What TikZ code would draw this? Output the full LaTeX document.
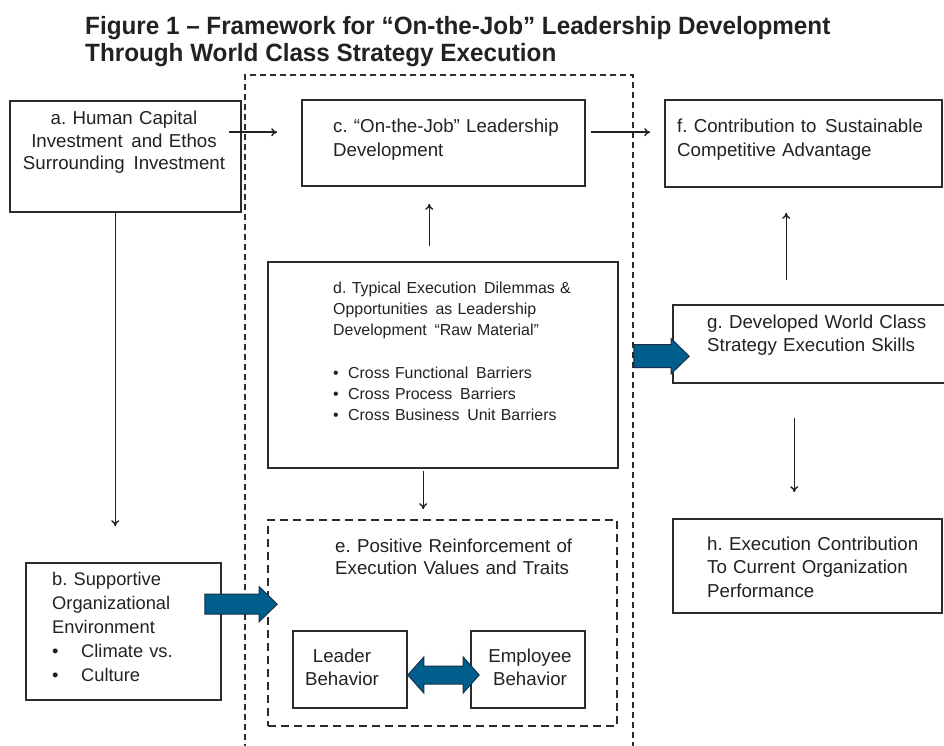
\documentclass[tikz,border=0pt]{standalone}
\usepackage{fontspec}
\setmainfont{Liberation Sans}
\newfontfamily\titlefont[FakeStretch=0.97,Ligatures=TeX]{Liberation Sans}
\usetikzlibrary{fit,calc,arrows.meta}

\definecolor{ink}{HTML}{222222}
\definecolor{rule}{HTML}{2B2B2B}
\definecolor{flowblue}{RGB}{0,94,140}
\definecolor{flowedge}{RGB}{20,50,75}

\tikzset{
  box/.style={draw=rule, line width=1.6pt, inner sep=0pt},
  dashbox/.style={draw=rule, line width=1.6pt, dash pattern=on 8pt off 5pt, inner sep=0pt},
  txt/.style={inner sep=0pt, text=ink, anchor=base west, text width=#1, align=left,
    font=\fontsize{18.7}{23.5}\selectfont},
  ctxt/.style={inner sep=0pt, text=ink, anchor=base, text width=#1, align=center,
    font=\fontsize{18.7}{23}\selectfont},
  arr/.style={draw=ink, line width=1.4pt, -{To[length=6pt,width=8pt]}},
  blockarr/.style={fill=flowblue, draw=flowedge, line width=1pt, line join=miter},
}

% horizontal block arrow: from, to, shaft half height, head half height, head length
\newcommand\flowarrow[5]{%
  \path[blockarr] let \p1=(#1), \p2=(#2) in
    (\x1,\y1+#3pt) -- (\x2-#5pt,\y1+#3pt) -- (\x2-#5pt,\y1+#4pt) -- (\x2,\y1)
    -- (\x2-#5pt,\y1-#4pt) -- (\x2-#5pt,\y1-#3pt) -- (\x1,\y1-#3pt) -- cycle;}
% horizontal double-headed block arrow
\newcommand\flowarrowboth[5]{%
  \path[blockarr] let \p1=(#1), \p2=(#2) in
    (\x1,\y1) -- (\x1+#5pt,\y1+#4pt) -- (\x1+#5pt,\y1+#3pt) -- (\x2-#5pt,\y1+#3pt)
    -- (\x2-#5pt,\y1+#4pt) -- (\x2,\y1) -- (\x2-#5pt,\y1-#4pt) -- (\x2-#5pt,\y1-#3pt)
    -- (\x1+#5pt,\y1-#3pt) -- (\x1+#5pt,\y1-#4pt) -- cycle;}

\newcommand\bul[1]{\makebox[#1][l]{\textbullet}}
\newcommand\xsp{\hspace{2.5pt}}

\begin{document}
\frenchspacing
\begin{tikzpicture}[x=1pt,y=-1pt]
\useasboundingbox (0,0) rectangle (944,746);
\fill[white] (0,0) rectangle (944,746);

% title
\node[inner sep=0pt, anchor=base west, text=ink,
      font=\titlefont\bfseries\fontsize{25}{27}\selectfont] (title) at (85,35)
  {Figure 1 – Framework for “On-the-Job” Leadership Development};
\node[inner sep=0pt, anchor=base west, text=ink,
      font=\titlefont\bfseries\fontsize{25}{27}\selectfont] (title2) at (85,62)
  {Through World Class Strategy Execution};

% the execution zone (open at the bottom)
\draw[rule, line width=1.3pt, dash pattern=on 6pt off 4pt]
  (245,750) -- (245,75) -- (633,75) -- (633,750);

% boxes
\node[box, fit={(10,101)(241,212)}] (a) {};
\node[box, fit={(26,563)(221,700)}] (b) {};
\node[box, fit={(302,100)(585,186)}] (c) {};
\node[box, fit={(268,262)(618,468)}] (d) {};
\node[dashbox, fit={(268,520)(617,726)}] (e) {};
\node[box, fit={(665,100)(942,187)}] (f) {};
\node[box, fit={(673,305)(950,383)}] (g) {};
\node[box, fit={(673,519)(942,613)}] (h) {};
\node[box, fit={(293,631)(407,708)}] (leader) {};
\node[box, fit={(471,631)(585,708)}] (employee) {};

% texts
\node[ctxt=228pt, font=\fontsize{18.7}{22.5}\selectfont] (ta) at (124,125)
  {a. Human Capital\\Investment \xsp and Ethos\\Surrounding \xsp Investment};
\node[txt=165pt, font=\fontsize{18.3}{24.2}\selectfont] (tb) at (52,585)
  {b. Supportive\\Organizational\\Environment\\\bul{29pt}Climate vs.\\\bul{29pt}Culture};
\node[txt=260pt] (tc) at (333,133) {c. “On-the-Job” Leadership\\Development};
\node[txt=270pt, font=\fontsize{15.9}{21.3}\selectfont] (td) at (333,293)
  {d. Typical Execution \xsp Dilemmas \&\\Opportunities \xsp as Leadership\\Development \xsp “Raw Material”\\[21.3pt]
   \bul{15pt}Cross Functional \xsp Barriers\\\bul{15pt}Cross Process \xsp Barriers\\\bul{15pt}Cross Business \xsp Unit Barriers};
\node[txt=270pt, font=\fontsize{18.7}{22}\selectfont] (te) at (335,552)
  {e. Positive Reinforcement of\\Execution Values and Traits};
\node[txt=260pt] (tf) at (677,133) {f. Contribution to \xsp Sustainable\\Competitive Advantage};
\node[txt=235pt] (tg) at (707,328) {g. Developed World Class\\Strategy Execution Skills};
\node[txt=235pt] (th) at (707,550) {h. Execution Contribution\\To Current Organization\\Performance};
\node[ctxt=110pt] (tl) at (342,662) {Leader\\Behavior};
\node[ctxt=110pt] (tm) at (530,662) {Employee\\Behavior};

% thin connectors
\draw[arr] ([shift={(-13,32)}]a.north east) -- ([shift={(-24,33)}]c.north west);
\draw[arr] ([shift={(5,33)}]c.north east) -- ([shift={(-14,33)}]f.north west);
\draw[arr] ([shift={(162,-15)}]d.north west) -- ([shift={(128,17)}]c.south west);
\draw[arr] ([shift={(156,2)}]d.south west) -- ([shift={(156,-10)}]e.north west);
\draw[arr] ([shift={(114,-24)}]g.north west) -- ([shift={(122,25)}]f.south west);
\draw[arr] ([shift={(122,34)}]g.south west) -- ([shift={(122,-26)}]h.north west);
\draw[arr] ([shift={(106,0)}]a.south west) -- ([shift={(90,-36)}]b.north west);

% block arrows
\flowarrow{[shift={(-17,42)}]b.north east}{[shift={(10,85)}]e.north west}{10}{17.5}{18}
\flowarrow{[shift={(15,95)}]d.north east}{[shift={(17,52)}]g.north west}{11.5}{17.5}{18}
\flowarrowboth{[shift={(0,5.5)}]leader.east}{[shift={(9,5.5)}]employee.west}{9}{18}{16}
\end{tikzpicture}
\end{document}
